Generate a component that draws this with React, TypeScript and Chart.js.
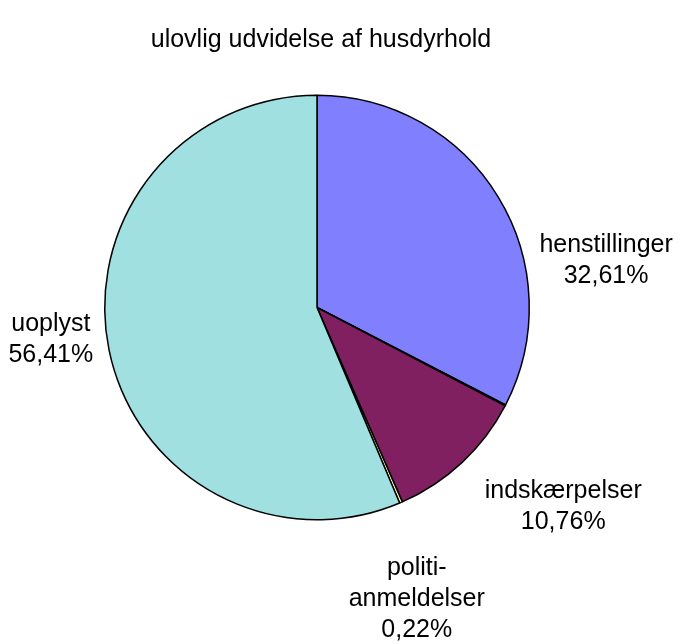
import React, { useEffect, useRef } from "react";
import { Chart, registerables } from "chart.js";

Chart.register(...registerables);

const TITLE = "ulovlig udvidelse af husdyrhold";
const categories = ["henstillinger", "", "indskærpelser", "politi-anmeldelser", "uoplyst"];
const values = [32.61, 0.08, 10.76, 0.22, 56.41];
const colors = ["#8080FF", "#FFFFFF", "#802060", "#FFFFC0", "#A0E0E0"];
const labelLines = [
  ["henstillinger", "32,61%"],
  [],
  ["indskærpelser", "10,76%"],
  ["politi-", "anmeldelser", "0,22%"],
  ["uoplyst", "56,41%"],
];
// label block centre relative to pie centre, in units of the radius
const labelOffsets = [
  [1.362, -0.223],
  [0, 0],
  [1.16, 0.94],
  [0.47, 1.376],
  [-1.254, 0.15],
];

const FONT = '25px "Liberation Sans", Arial, sans-serif';
const LINE_H = 31;

const labelPlugin = {
  id: "excelLabels",
  afterDraw(chart: any) {
    const ctx = chart.ctx;
    const meta = chart.getDatasetMeta(0);
    const arc0 = meta.data[0];
    if (!arc0) return;
    const cx = arc0.x;
    const cy = arc0.y;
    const r = arc0.outerRadius;
    ctx.save();
    ctx.fillStyle = "#000";
    ctx.font = FONT;
    ctx.textAlign = "center";
    ctx.textBaseline = "middle";
    ctx.fillText(TITLE, cx + 4, 40);
    labelLines.forEach((lines, i) => {
      if (!lines.length) return;
      const bx = cx + labelOffsets[i][0] * r;
      const by = cy + labelOffsets[i][1] * r;
      const startY = by - ((lines.length - 1) * LINE_H) / 2;
      lines.forEach((t, j) => ctx.fillText(t, bx, startY + j * LINE_H));
    });
    ctx.restore();
  },
};

export default function App() {
  const ref = useRef<HTMLCanvasElement>(null);
  useEffect(() => {
    if (!ref.current) return;
    const chart = new Chart(ref.current, {
      type: "pie",
      data: {
        labels: categories,
        datasets: [
          {
            data: values,
            backgroundColor: colors,
            borderColor: "#000000",
            borderWidth: 1.5,
          },
        ],
      },
      options: {
        animation: false,
        responsive: true,
        maintainAspectRatio: false,
        layout: { padding: { left: 104, right: 150, top: 94, bottom: 123 } },
        plugins: {
          legend: { display: false },
          title: { display: false },
          tooltip: { enabled: false },
        },
      },
      plugins: [labelPlugin],
    });
    return () => chart.destroy();
  }, []);
  return (
    <div style={{ position: "fixed", left: 0, top: 0, width: 680, height: 644, background: "#fff" }}>
      <canvas ref={ref} />
    </div>
  );
}
